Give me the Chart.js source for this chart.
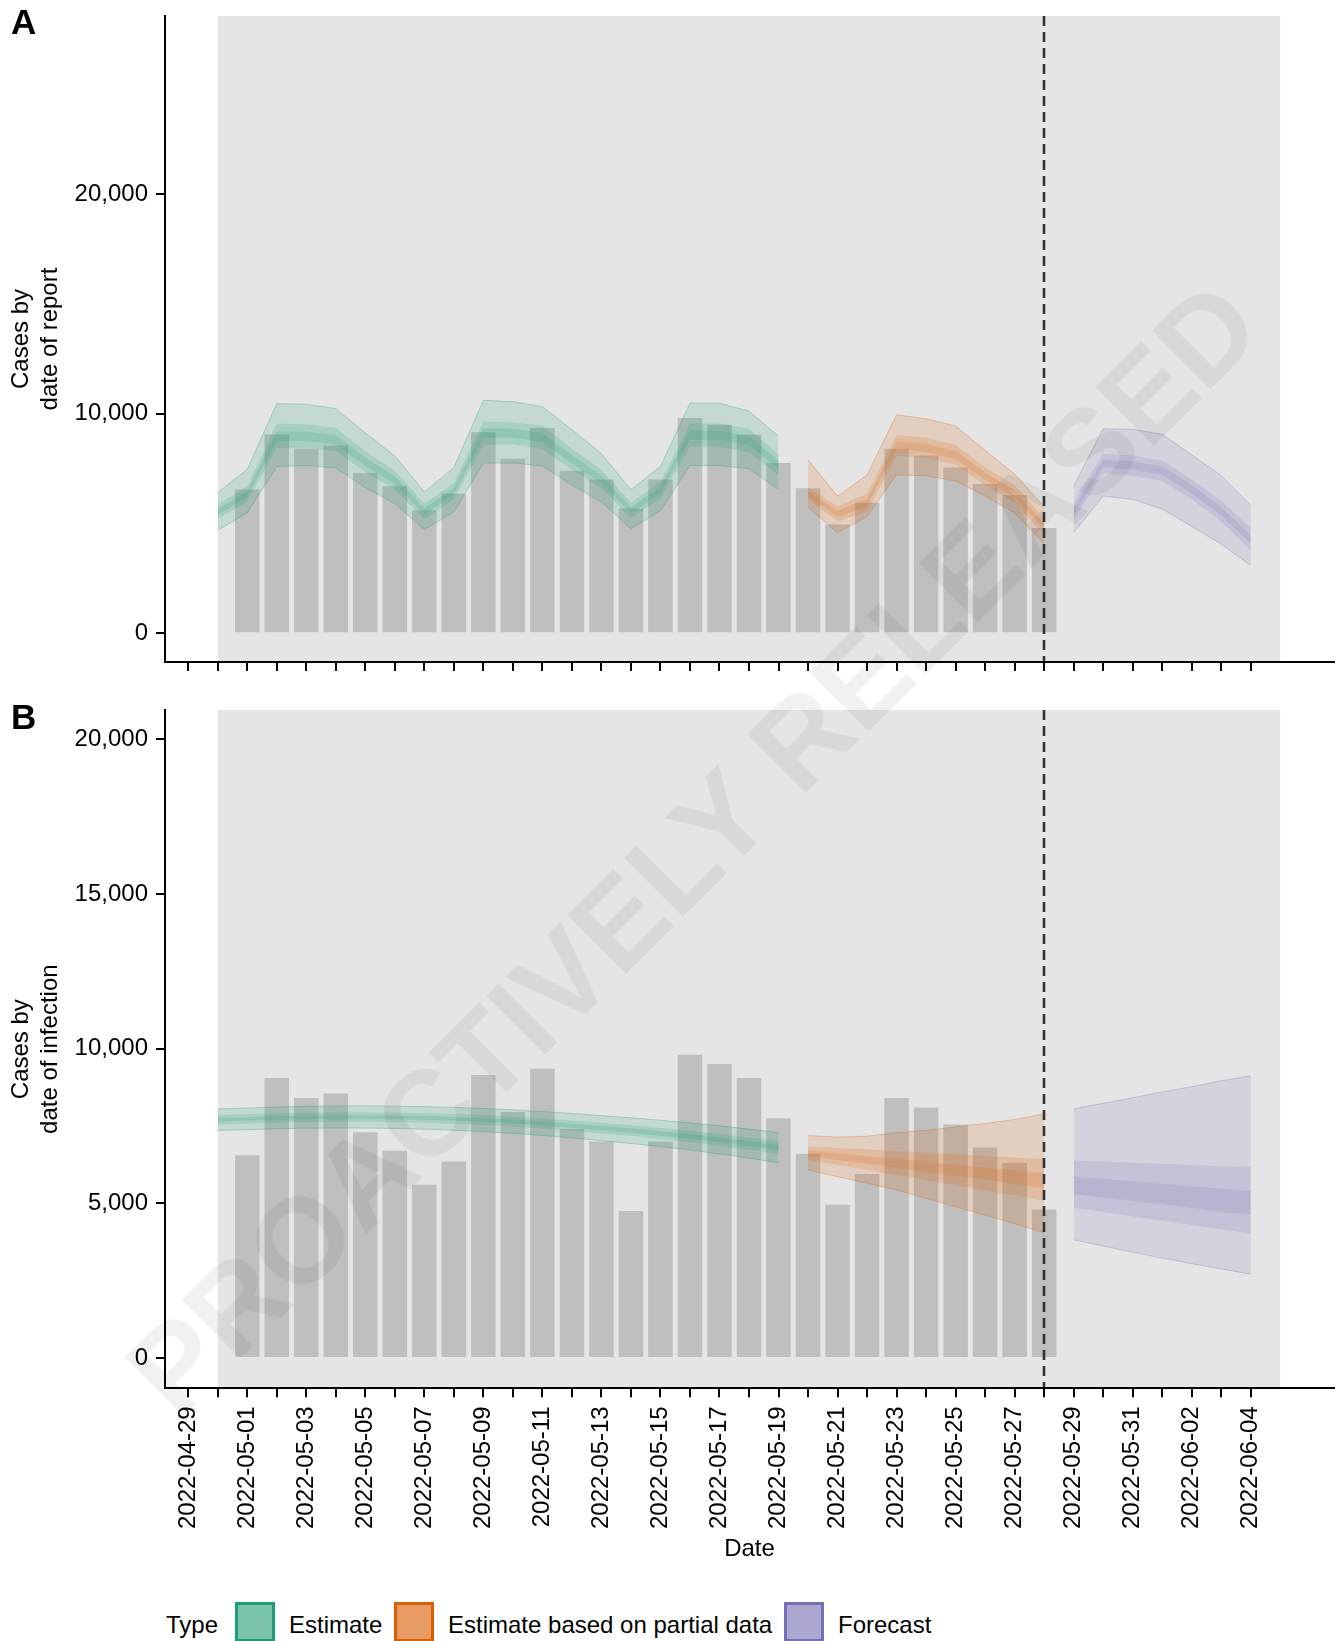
<!DOCTYPE html>
<html>
<head>
<meta charset="utf-8">
<title>Cases by date of report and by date of infection</title>
<script src="https://cdn.jsdelivr.net/npm/chart.js@4.4.1/dist/chart.umd.min.js"></script>
<style>
  html, body { margin: 0; padding: 0; background: #fff; }
  body { position: relative; width: 1338px; height: 1641px; overflow: hidden;
         font-family: 'Liberation Sans', Arial, sans-serif; color: #000; }
  canvas { position: absolute; left: 0; }
  #chartA { top: 0; }
  #chartB { top: 690px; }
  .tag { position: absolute; left: 11px; font: bold 35px/1 'Liberation Sans', Arial, sans-serif; }
  .lg { position: absolute; top: 1613px; font-size: 24px; line-height: 1; white-space: nowrap; }
  .key { position: absolute; top: 1602px; width: 34px; height: 34px; border: 3px solid; }
  .mark { position: absolute; left: 693px; top: 848px; transform: translate(-50%, -50%) rotate(-45deg);
          font: bold 121px/1 'Liberation Sans', Arial, sans-serif; color: rgba(0,0,0,0.055);
          white-space: nowrap; pointer-events: none; }
</style>
</head>
<body>
<canvas id="chartA" width="1338" height="690"></canvas>
<canvas id="chartB" width="1338" height="880"></canvas>
<div class="tag" style="top:4px">A</div>
<div class="tag" style="top:699px">B</div>

<div class="lg" style="left:166px">Type</div>
<div class="key" style="left:235px; background:#7ac4ab; border-color:#1b9e77"></div>
<div class="lg" style="left:289px">Estimate</div>
<div class="key" style="left:394px; background:#e89c64; border-color:#d95f02"></div>
<div class="lg" style="left:448px">Estimate based on partial data</div>
<div class="key" style="left:784px; background:#aba8d2; border-color:#7570b3"></div>
<div class="lg" style="left:838px">Forecast</div>

<div class="mark">PROACTIVELY RELEASED</div>

<script>
// ── Data ──────────────────────────────────────────────────────────────────────
const caseDates = ['2022-05-01','2022-05-02','2022-05-03','2022-05-04','2022-05-05','2022-05-06','2022-05-07',
  '2022-05-08','2022-05-09','2022-05-10','2022-05-11','2022-05-12','2022-05-13','2022-05-14',
  '2022-05-15','2022-05-16','2022-05-17','2022-05-18','2022-05-19','2022-05-20','2022-05-21',
  '2022-05-22','2022-05-23','2022-05-24','2022-05-25','2022-05-26','2022-05-27','2022-05-28'];
// reported cases as drawn in panel A and in panel B
const casesA = [6550, 9050, 8400, 8550, 7300, 6700, 5600, 6350, 9150, 7950, 9350, 7400, 7000, 5680,
  7000, 9800, 9500, 9050, 7750, 6600, 4950, 5950, 8400, 8100, 7550, 6800, 6300, 4800];
const casesB = [6550, 9050, 8400, 8550, 7300, 6700, 5600, 6350, 9150, 7950, 9350, 7400, 7000, 4750,
  7000, 9800, 9500, 9050, 7750, 6600, 4950, 5950, 8400, 8100, 7550, 6800, 6300, 4800];

const estimateDates = ['2022-04-30','2022-05-01','2022-05-02','2022-05-03','2022-05-04','2022-05-05','2022-05-06',
  '2022-05-07','2022-05-08','2022-05-09','2022-05-10','2022-05-11','2022-05-12','2022-05-13',
  '2022-05-14','2022-05-15','2022-05-16','2022-05-17','2022-05-18','2022-05-19'];
const partialDates = ['2022-05-20','2022-05-21','2022-05-22','2022-05-23','2022-05-24','2022-05-25',
  '2022-05-26','2022-05-27','2022-05-28'];
const forecastDates = ['2022-05-29','2022-05-30','2022-05-31','2022-06-01','2022-06-02','2022-06-03','2022-06-04'];

// Panel A: cases by date of report, [lower, upper] of 90%, 50%, 20% intervals
const repEst90 = [[4680,6400],[5480,7470],[7590,10460],[7640,10430],[7530,10230],[6640,9130],[5900,8080],
  [4710,6440],[5520,7550],[7750,10610],[7750,10550],[7620,10320],[6750,9280],[5980,8180],
  [4760,6550],[5570,7590],[7640,10480],[7640,10480],[7490,10120],[6550,8970]];
const repEst50 = [[5200,5850],[6000,6700],[8440,9540],[8440,9520],[8300,9350],[7350,8300],[6550,7400],
  [5200,5900],[6100,6850],[8600,9650],[8600,9600],[8400,9450],[7450,8400],[6600,7450],
  [5250,5950],[6150,6900],[8500,9550],[8500,9550],[8250,9300],[7200,8150]];
const repEst20 = [[5390,5650],[6200,6480],[8760,9200],[8760,9190],[8610,9030],[7630,8010],[6800,7140],
  [5410,5690],[6320,6620],[8910,9330],[8900,9300],[8710,9130],[7730,8110],[6850,7190],
  [5460,5740],[6370,6670],[8810,9230],[8810,9230],[8560,8980],[7480,7860]];
const repPart90 = [[5740,7900],[4580,6250],[5320,7210],[7210,9950],[7180,9770],[6940,9440],[6250,8330],[5480,7250],[4090,5760]];
const repPart50 = [[6100,6640],[5090,5790],[5560,6360],[8100,9030],[7980,8900],[7670,8570],[6740,7560],[5970,6740],[4480,5250]];
const repPart20 = [[6260,6480],[5300,5580],[5800,6120],[8390,8760],[8260,8630],[7940,8300],[6990,7320],[6210,6520],[4710,5020]];
const repFc90 = [[4580,6710],[6250,9310],[6100,9290],[5660,9060],[4860,8130],[4060,7180],[3090,5820]];
const repFc50 = [[5170,5940],[7300,8180],[7180,8100],[6940,7870],[6100,7020],[5090,6020],[3780,4780]];
const repFc20 = [[5400,5710],[7560,7910],[7450,7820],[7210,7590],[6370,6750],[5370,5740],[4080,4480]];

// Panel B: cases by date of infection
const infEst90 = [[7350,8050],[7380,8080],[7410,8110],[7425,8135],[7435,8145],[7430,8150],[7420,8140],
  [7395,8125],[7360,8100],[7315,8065],[7260,8020],[7195,7965],[7115,7905],[7025,7835],
  [6935,7765],[6835,7685],[6720,7600],[6595,7505],[6460,7400],[6310,7290]];
const infEst50 = [[7550,7850],[7580,7880],[7610,7910],[7630,7930],[7640,7940],[7640,7940],[7630,7930],
  [7605,7915],[7575,7885],[7530,7850],[7480,7800],[7420,7740],[7345,7675],[7260,7600],
  [7175,7525],[7080,7440],[6975,7345],[6860,7240],[6735,7125],[6595,7005]];
const infEst20 = [[7645,7755],[7675,7785],[7705,7815],[7725,7835],[7735,7845],[7735,7845],[7725,7835],
  [7700,7820],[7670,7790],[7630,7750],[7580,7700],[7515,7645],[7445,7575],[7360,7500],
  [7280,7420],[7185,7335],[7085,7235],[6970,7130],[6850,7010],[6715,6885]];
const infPart90 = [[6080,7190],[5860,7140],[5650,7170],[5430,7280],[5160,7360],[4890,7470],[4620,7580],[4340,7710],[4050,7890]];
const infPart50 = [[6400,6840],[6240,6790],[6080,6740],[5910,6690],[5750,6640],[5580,6590],[5420,6530],[5250,6480],[5080,6430]];
const infPart20 = [[6530,6710],[6400,6620],[6275,6525],[6150,6430],[6020,6340],[5895,6245],[5765,6155],[5635,6065],[5485,5975]];
const infFc90 = [[3820,8060],[3620,8230],[3420,8410],[3230,8600],[3050,8770],[2880,8960],[2710,9120]];
const infFc50 = [[4860,6380],[4720,6350],[4580,6310],[4440,6280],[4300,6240],[4160,6200],[4020,6170]];
const infFc20 = [[5300,5860],[5190,5780],[5080,5710],[4970,5630],[4850,5550],[4730,5470],[4620,5400]];

const tickLabels = ['2022-04-29','2022-05-01','2022-05-03','2022-05-05','2022-05-07','2022-05-09','2022-05-11',
  '2022-05-13','2022-05-15','2022-05-17','2022-05-19','2022-05-21','2022-05-23','2022-05-25',
  '2022-05-27','2022-05-29','2022-05-31','2022-06-02','2022-06-04'];
const shadedSpan = ['2022-04-30', '2022-06-05'];
const nowcastDate = '2022-05-28';

// ── Theme ─────────────────────────────────────────────────────────────────────
const C = {
  est:   '27,158,119',
  part:  '217,95,2',
  fc:    '117,112,179',
  panel: '#e5e5e5',
  bar:   '#bfbfbf',
  font:  "'Liberation Sans', Arial, sans-serif"
};
Chart.defaults.font.family = C.font;
Chart.defaults.font.size = 24;
Chart.defaults.color = '#000';

const origin = Date.parse('2022-04-29');
const dayOf = d => (Date.parse(d) - origin) / 86400000;
const tickDays = Array.from({ length: 37 }, (_, i) => i);

// grey backdrop + dashed "today" line
const backdrop = {
  id: 'backdrop',
  beforeDatasetsDraw(chart) {
    const { ctx, chartArea: a, scales: { x } } = chart;
    const l = x.getPixelForValue(dayOf(shadedSpan[0]));
    const r = x.getPixelForValue(dayOf(shadedSpan[1]));
    ctx.save();
    ctx.fillStyle = C.panel;
    ctx.fillRect(l, a.top, r - l, a.bottom - a.top);
    ctx.restore();
  },
  afterDatasetsDraw(chart) {
    const { ctx, chartArea: a, scales: { x } } = chart;
    const px = Math.round(x.getPixelForValue(dayOf(nowcastDate)));
    ctx.save();
    ctx.strokeStyle = '#333';
    ctx.lineWidth = 2.6;
    ctx.setLineDash([10, 6]);
    ctx.beginPath();
    ctx.moveTo(px, a.top);
    ctx.lineTo(px, a.bottom);
    ctx.stroke();
    ctx.restore();
  }
};

function ribbon(dates, band, rgb, edge) {
  const xs = dates.map(dayOf);
  const line = { type: 'line', pointRadius: 0, tension: 0, order: 1,
                 borderWidth: 1, borderColor: edge ? `rgba(${rgb},0.3)` : 'transparent' };
  return [
    { ...line, data: xs.map((x, i) => ({ x, y: band[i][0] })), fill: false },
    { ...line, data: xs.map((x, i) => ({ x, y: band[i][1] })), fill: '-1',
      backgroundColor: `rgba(${rgb},0.16)` }
  ];
}

function panel(id, cfg) {
  const datasets = [];
  cfg.ribbons.forEach(([dates, bands, rgb]) => {
    bands.forEach((b, k) => datasets.push(...ribbon(dates, b, rgb, k === 0)));
  });
  datasets.push({
    type: 'bar',
    data: caseDates.map((d, i) => ({ x: dayOf(d), y: cfg.cases[i] })),
    backgroundColor: C.bar,
    barPercentage: 0.83, categoryPercentage: 1,
    order: 10
  });

  new Chart(document.getElementById(id), {
    type: 'bar',
    data: { datasets },
    options: {
      responsive: false, animation: false,
      layout: { padding: { top: cfg.top, right: 4, left: 0, bottom: 0 } },
      plugins: { legend: { display: false }, tooltip: { enabled: false } },
      scales: {
        x: {
          type: 'linear', min: -0.786, max: 38.82, offset: false,
          afterBuildTicks: s => { s.ticks = tickDays.map(v => ({ value: v })); },
          ticks: {
            autoSkip: false, minRotation: 90, maxRotation: 90, padding: 9,
            callback: v => {
              if (!cfg.xLabels) return '';
              const t = tickLabels.find(d => dayOf(d) === v);
              return t || '';
            }
          },
          grid: { offset: false, drawOnChartArea: false, drawTicks: true, tickLength: 9, color: '#000', lineWidth: 2 },
          border: { color: '#000', width: 2, z: 1 },
          title: { display: !!cfg.xLabels, text: 'Date', padding: { top: 0, bottom: 6 } },
          afterFit: s => { s.height = cfg.xHeight; s.paddingLeft = 0; s.paddingRight = 0; }
        },
        y: {
          min: cfg.yMin, max: cfg.yMax,
          afterBuildTicks: s => { s.ticks = cfg.yTicks.map(v => ({ value: v })); },
          ticks: { padding: 8, callback: v => v.toLocaleString('en-US') },
          grid: { drawOnChartArea: false, drawTicks: true, tickLength: 9, color: '#000', lineWidth: 2 },
          border: { color: '#000', width: 2, z: 1 },
          title: { display: true, text: cfg.yTitle, padding: { top: 7, bottom: 0 }, font: { lineHeight: 1.2 } },
          afterFit: s => { s.width = 165; s.paddingTop = 0; s.paddingBottom = 0; }
        }
      }
    },
    plugins: [backdrop]
  });
}

panel('chartA', {
  top: 16, xHeight: 28, xLabels: false, cases: casesA,
  yMin: -1306, yMax: 28108, yTicks: [0, 10000, 20000],
  yTitle: ['Cases by', 'date of report'],
  ribbons: [
    [estimateDates, [repEst90, repEst50, repEst20], C.est],
    [partialDates,  [repPart90, repPart50, repPart20], C.part],
    [forecastDates, [repFc90, repFc50, repFc20], C.fc]
  ]
});

panel('chartB', {
  top: 20, xHeight: 181.7, xLabels: true, cases: casesB,
  yMin: -979, yMax: 20944, yTicks: [0, 5000, 10000, 15000, 20000],
  yTitle: ['Cases by', 'date of infection'],
  ribbons: [
    [estimateDates, [infEst90, infEst50, infEst20], C.est],
    [partialDates,  [infPart90, infPart50, infPart20], C.part],
    [forecastDates, [infFc90, infFc50, infFc20], C.fc]
  ]
});
</script>
</body>
</html>
